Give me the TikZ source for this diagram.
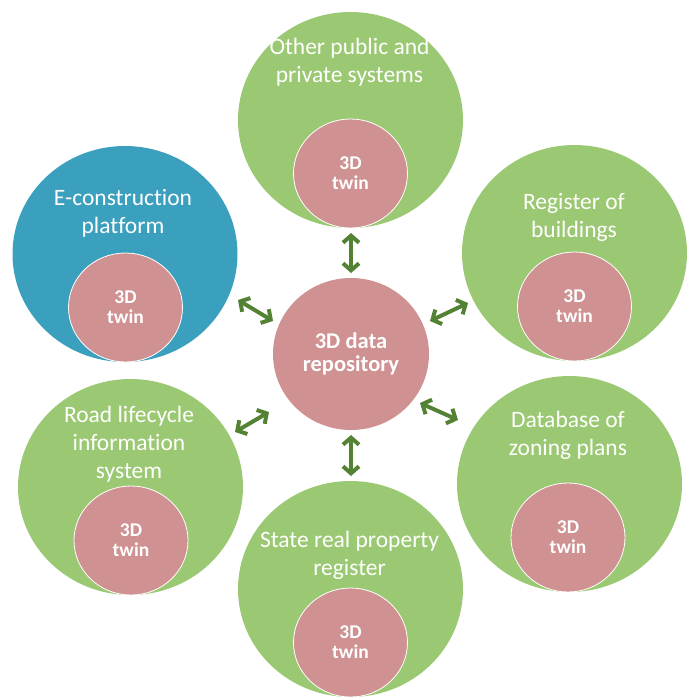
\documentclass[tikz,border=0pt]{standalone}
\usepackage{fontspec}
\setmainfont{Carlito}[Ligatures=NoCommon]
\usetikzlibrary{arrows.meta,shapes.geometric}
\definecolor{ringgreen}{HTML}{9BC872}
\definecolor{ringteal}{HTML}{3BA0BE}
\definecolor{twinpink}{HTML}{CF9191}
\definecolor{linkgreen}{HTML}{548235}
\begin{document}
\begin{tikzpicture}[x=1pt,y=-1pt,
  system/.style={ellipse, minimum width=225pt, minimum height=216pt, inner sep=0pt, fill=ringgreen},
  twin/.style={ellipse, fill=twinpink, draw=white, line width=0.8pt,
    minimum width=114pt, minimum height=109pt, inner sep=0pt, text=white,
    font=\bfseries\fontsize{19.5}{20}\selectfont, align=center},
  hub/.style={ellipse, fill=twinpink, minimum width=156pt, minimum height=152pt,
    inner sep=0pt, text=white, font=\bfseries\fontsize{22.5}{23}\selectfont, align=center},
  caption/.style={text=white, font=\fontsize{23.5}{28}\selectfont, align=center, inner sep=0pt},
  link/.style={draw=linkgreen, line width=4pt,
    {Straight Barb[length=7pt,width=16pt]}-{Straight Barb[length=7pt,width=16pt]}}]
\useasboundingbox (0,0) rectangle (693,698);

% outer system discs
\node[system] (other) at (350.5,120) {};
\node[system, fill=ringteal] (econ) at (125,254) {};
\node[system] (reg) at (574.5,253) {};
\node[system] (road) at (130.5,487) {};
\node[system] (zone) at (569.5,484) {};
\node[system] (state) at (350.5,589) {};

% 3D twins inside each system
\node[twin] (other-twin) at (350.5,173.5) {3D\\twin};
\node[twin] (econ-twin) at (125.5,307.5) {3D\\twin};
\node[twin] (reg-twin) at (574.5,306.5) {3D\\twin};
\node[twin] (road-twin) at (131,540.5) {3D\\twin};
\node[twin] (zone-twin) at (568,537.5) {3D\\twin};
\node[twin] (state-twin) at (350.5,642.5) {3D\\twin};

% central repository
\node[hub] (repo) at (351,354) {3D data\\repository};

% system captions
\node[caption] (other-cap) at (349.5,62) {Other public and\\private systems};
\node[caption] (econ-cap) at (123,213.5) {E-construction\\platform};
\node[caption] (reg-cap) at (574,217.5) {Register of\\buildings};
\node[caption] (road-cap) at (129,444.5) {Road lifecycle\\information\\system};
\node[caption] (zone-cap) at (568,435.5) {Database of\\zoning plans};
\node[caption] (state-cap) at (349.5,555.5) {State real property\\register};

% exchange arrows between the repository and the systems
\coordinate (l-other-a) at (351,233);  \coordinate (l-other-b) at (351,273);
\coordinate (l-state-a) at (351,435);  \coordinate (l-state-b) at (351,476);
\coordinate (l-econ-a) at (238,300);   \coordinate (l-econ-b) at (273,321);
\coordinate (l-reg-a) at (430,321);    \coordinate (l-reg-b) at (468,303);
\coordinate (l-road-a) at (235,432);   \coordinate (l-road-b) at (269,412);
\coordinate (l-zone-a) at (420,403);   \coordinate (l-zone-b) at (458,420);
\draw[link] (l-other-a) -- (l-other-b);
\draw[link] (l-state-a) -- (l-state-b);
\draw[link] (l-econ-a) -- (l-econ-b);
\draw[link] (l-reg-a) -- (l-reg-b);
\draw[link] (l-road-a) -- (l-road-b);
\draw[link] (l-zone-a) -- (l-zone-b);
\end{tikzpicture}
\end{document}
